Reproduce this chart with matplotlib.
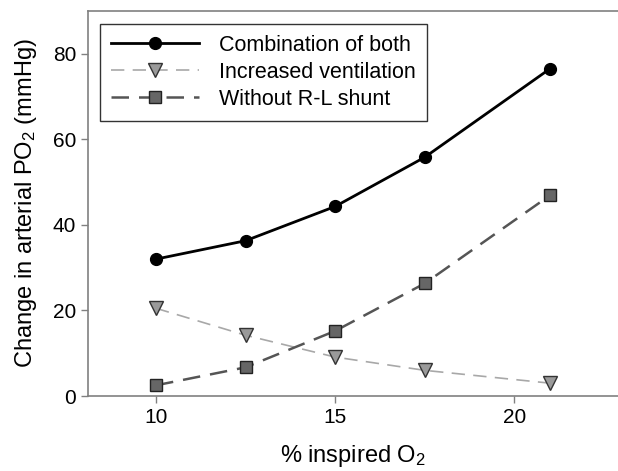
import matplotlib
matplotlib.use("Agg")
import matplotlib.pyplot as plt

plt.rcParams['font.family'] = ['Liberation Sans', 'DejaVu Sans']
plt.rcParams['mathtext.default'] = 'regular'

x = [10, 12.5, 15, 17.5, 21]
combination = [32.0, 36.3, 44.3, 55.8, 76.5]
ventilation = [20.5, 14.2, 9.1, 6.0, 3.0]
no_shunt = [2.5, 6.7, 15.2, 26.3, 46.9]
labels = ["Combination of both", "Increased ventilation", "Without R-L shunt"]

fig = plt.figure(figsize=(6.18, 4.71), dpi=100)
ax = fig.add_axes([88/618, 75/471, 1 - 88/618, 385/471])

ax.plot(x, combination, color='black', lw=2, marker='o', ms=8.5,
        mfc='black', mec='black', label=labels[0])
ax.plot(x, ventilation, color='#a8a8a8', lw=1.2, ls=(0, (8, 5)), marker='v', ms=9.5,
        mfc='#9a9a9a', mec='#333333', mew=1, label=labels[1])
ax.plot(x, no_shunt, color='#555555', lw=1.8, ls=(0, (7, 4)), marker='s', ms=8,
        mfc='#666666', mec='#222222', mew=1, label=labels[2])

ax.set_xlim(8.1, 22.9)
ax.set_ylim(0, 90)
ax.set_xticks([10, 15, 20])
ax.set_yticks([0, 20, 40, 60, 80])
ax.tick_params(labelsize=15, direction='out', length=5, color='#808080', width=1)
for s in ['left', 'bottom', 'top']:
    ax.spines[s].set_color('#808080')
    ax.spines[s].set_linewidth(1.2)
ax.spines['right'].set_visible(False)

ax.set_xlabel('% inspired O$_2$', fontsize=17, labelpad=12)
ax.set_ylabel('Change in arterial PO$_2$ (mmHg)', fontsize=17, labelpad=10)

leg = ax.legend(loc='upper left', bbox_to_anchor=(0.0226, 0.966), borderaxespad=0,
                fontsize=15.5, frameon=True, fancybox=False, edgecolor='black',
                handlelength=4.1, borderpad=0.5, labelspacing=0.28, handletextpad=0.95)
leg.get_frame().set_linewidth(1)

fig.savefig('out.png', dpi=100)
